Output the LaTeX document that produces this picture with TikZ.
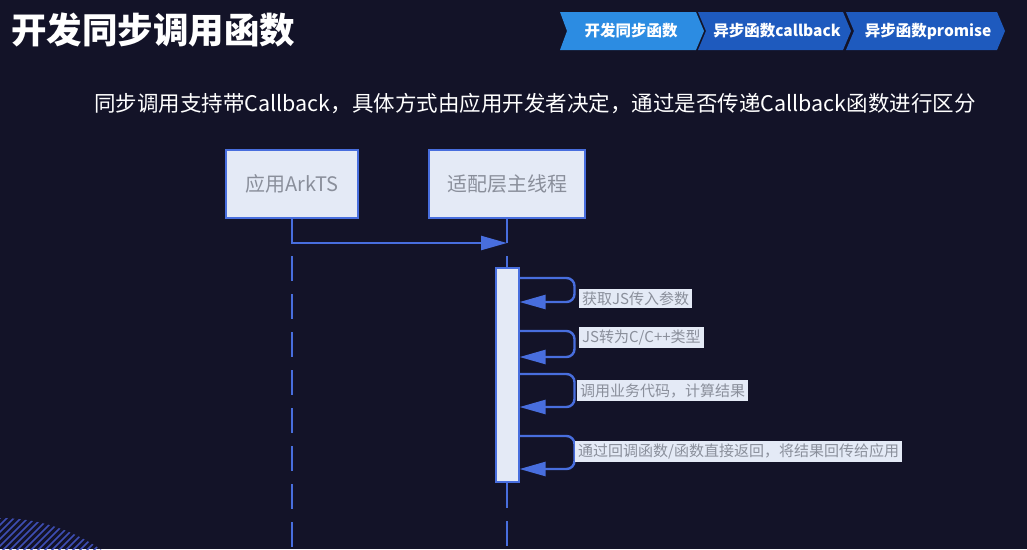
\documentclass[tikz,border=0pt]{standalone}
\usepackage{fontspec}
\newfontfamily\cjk{Noto Sans CJK SC}
\usetikzlibrary{arrows.meta,positioning}

\definecolor{bgnavy}{RGB}{19,19,40}
\definecolor{seqblue}{RGB}{72,110,222}
\definecolor{boxfill}{RGB}{228,234,246}
\definecolor{txtgray}{RGB}{138,143,155}
\definecolor{crumblight}{RGB}{44,140,226}
\definecolor{crumbdark}{RGB}{30,90,190}
\definecolor{hatchblue}{RGB}{62,78,180}

\begin{document}
\begin{tikzpicture}[
  x=1pt,y=-1pt,
  lifebox/.style={draw=seqblue,line width=2pt,fill=boxfill,text=txtgray,
    minimum height=68pt,font=\cjk\fontsize{20}{24}\selectfont},
  note/.style={fill=boxfill,text=txtgray,inner sep=3pt,anchor=west,
    font=\cjk\fontsize{15}{18}\selectfont},
  msg/.style={draw=seqblue,line width=2.4pt,-{Triangle[length=26pt,width=14pt]}},
  selfmsg/.style={msg,rounded corners=8pt},
  lifeline/.style={seqblue,line width=2.4pt,dash pattern=on 25pt off 13pt},
  crumb/.style={text=white,font=\cjk\bfseries\fontsize{15.5}{18}\selectfont}
]
  \useasboundingbox (0,0) rectangle (1027,549);
  \fill[bgnavy] (0,0) rectangle (1027,549);

  % hatched corner
  \begin{scope}
    \clip (0,695) circle (177pt);
    \foreach \i in {-70,-63,...,130}
      \draw[hatchblue,line width=1.6pt] (\i,560) -- ++(60,-60);
  \end{scope}

  % header
  \node[anchor=west,inner sep=0,text=white,font=\cjk\bfseries\fontsize{35.5}{40}\selectfont]
    (title) at (11,30) {开发同步调用函数};

  \fill[crumbdark] (846,12) -- (997,12) -- (1005,31) -- (997,50) -- (846,50) -- (854,31) -- cycle;
  \fill[crumbdark] (698,12) -- (843,12) -- (851,31) -- (843,50) -- (698,50) -- (706,31) -- cycle;
  \fill[crumblight] (560,12) -- (696,12) -- (704,31) -- (696,50) -- (560,50) -- (567,31) -- cycle;
  \node[crumb] (crumb1) at (631,31) {开发同步函数};
  \node[crumb] (crumb2) at (777,31) {异步函数callback};
  \node[crumb] (crumb3) at (928,31) {异步函数promise};

  \node[anchor=west,inner sep=0,text=white,font=\cjk\fontsize{21.5}{25}\selectfont]
    (subtitle) at (94,104) {同步调用支持带Callback，具体方式由应用开发者决定，通过是否传递Callback函数进行区分};

  % lifelines
  \node[lifebox,minimum width=132pt] (app) at (292,184) {应用ArkTS};
  \node[lifebox,minimum width=156pt,right=69pt of app] (adapter) {适配层主线程};
  \node[draw=seqblue,line width=2pt,fill=boxfill,minimum width=23pt,
    minimum height=214pt,inner sep=0] (act) at (adapter.south |- 0,375) {};

  \coordinate (callend) at (adapter.south |- 0,243);
  \draw[seqblue,line width=2.4pt] (adapter.south) -- (callend);
  \draw[msg] (app.south) |- (callend);

  \draw[lifeline] (app.south |- 0,256) -- (app.south |- 0,549);
  \draw[seqblue,line width=2.4pt] (adapter.south |- 0,256) -- (act.north);
  \draw[lifeline] (act.south) -- (adapter.south |- 0,549);

  % self calls
  \draw[selfmsg] ([yshift=-11pt]act.north east) -- ++(55,0) -- ++(0,24) -- ([yshift=-35pt]act.north east);
  \draw[selfmsg] ([yshift=-64pt]act.north east) -- ++(55,0) -- ++(0,26) -- ([yshift=-90pt]act.north east);
  \draw[selfmsg] ([yshift=-107pt]act.north east) -- ++(55,0) -- ++(0,33) -- ([yshift=-140pt]act.north east);
  \draw[selfmsg] ([yshift=-169pt]act.north east) -- ++(55,0) -- ++(0,33) -- ([yshift=-202pt]act.north east);

  \node[note] (step1) at (579,298.5) {获取JS传入参数};
  \node[note] (step2) at (579,337.5) {JS转为C/C++类型};
  \node[note] (step3) at (577,390.5) {调用业务代码，计算结果};
  \node[note] (step4) at (575,451.5) {通过回调函数/函数直接返回，将结果回传给应用};
\end{tikzpicture}
\end{document}
